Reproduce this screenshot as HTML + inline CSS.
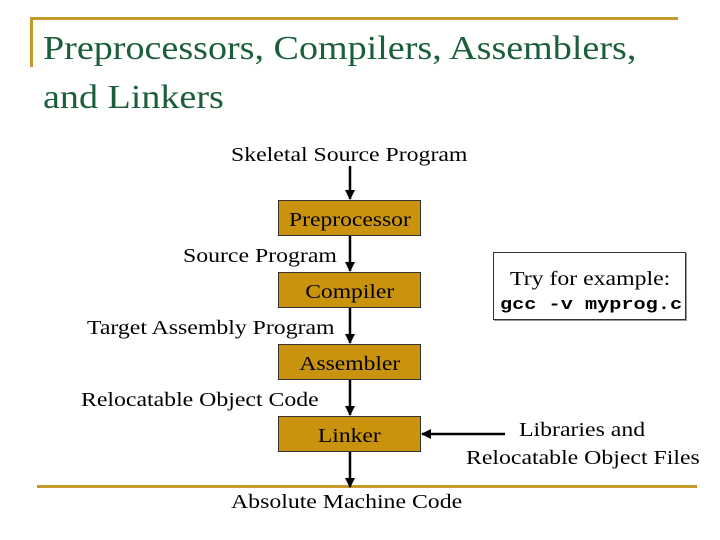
<!DOCTYPE html>
<html><head><style>
body{margin:0;width:720px;height:540px;background:#fff;position:relative;overflow:hidden;font-family:"Liberation Serif",serif;}
.a{position:absolute;}
.t{position:absolute;font-size:20.5px;color:#000;white-space:nowrap;line-height:1;transform:scaleX(1.16);transform-origin:0 0;}
.box{position:absolute;left:278px;width:143px;height:36px;background:#c9930e;border:1px solid #333;box-sizing:border-box;font-size:20.5px;text-align:center;line-height:38px;}
.box span{display:inline-block;transform:scaleX(1.15);}
</style></head><body>
<div class="a" style="left:30px;top:17px;width:648px;height:3px;background:#c49a2c"></div>
<div class="a" style="left:30px;top:17px;width:3px;height:50px;background:#c49a2c"></div>
<div class="a" style="left:37px;top:485px;width:660px;height:3px;background:#c49a2c"></div>
<div class="t" style="left:43px;top:32px;font-size:34px;color:#1b5e3b;transform:scaleX(1.12)">Preprocessors, Compilers, Assemblers,</div>
<div class="t" style="left:43px;top:81px;font-size:34px;color:#1b5e3b;transform:scaleX(1.12)">and Linkers</div>

<div class="t" style="left:231px;top:145px">Skeletal Source Program</div>
<div class="box" style="top:200px"><span>Preprocessor</span></div>
<div class="t" style="left:183px;top:246px">Source Program</div>
<div class="box" style="top:272px"><span>Compiler</span></div>
<div class="t" style="left:87px;top:318px">Target Assembly Program</div>
<div class="box" style="top:344px"><span>Assembler</span></div>
<div class="t" style="left:81px;top:390px">Relocatable Object Code</div>
<div class="box" style="top:416px"><span>Linker</span></div>
<div class="t" style="left:231px;top:492px">Absolute Machine Code</div>
<div class="t" style="left:519px;top:420px">Libraries and</div>
<div class="t" style="left:466px;top:448px">Relocatable Object Files</div>

<div class="a" style="left:493px;top:252px;width:193px;height:68px;border:1px solid #333;box-sizing:border-box;box-shadow:1px 1px 0 #999"></div>
<div class="t" style="left:510px;top:269px">Try for example:</div>
<div class="t" style="left:500px;top:297px;font-family:'Liberation Mono',monospace;font-size:17px;font-weight:bold;transform:scaleX(1.19)">gcc -v myprog.c</div>

<svg class="a" style="left:0;top:0" width="720" height="540">
<defs><marker id="m" markerWidth="10" markerHeight="10" refX="9" refY="5" orient="auto" markerUnits="userSpaceOnUse"><path d="M0,0 L10,5 L0,10 Z" fill="#000"/></marker></defs>
<g stroke="#000" stroke-width="2.5" marker-end="url(#m)">
<line x1="350" y1="166" x2="350" y2="199"/>
<line x1="350" y1="236" x2="350" y2="271"/>
<line x1="350" y1="308" x2="350" y2="343"/>
<line x1="350" y1="380" x2="350" y2="415"/>
<line x1="350" y1="452" x2="350" y2="487"/>
<line x1="505" y1="434" x2="422" y2="434"/>
</g>
</svg>
</body></html>
